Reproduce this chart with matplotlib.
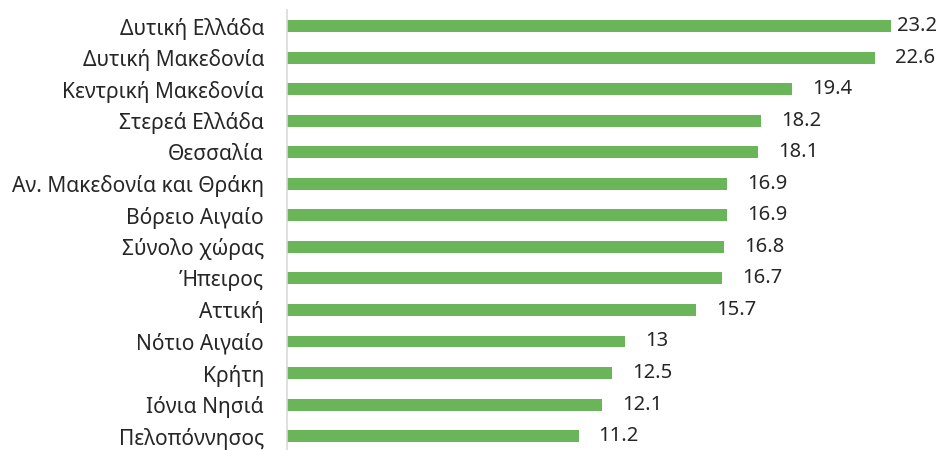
import matplotlib
matplotlib.use("Agg")
import matplotlib.pyplot as plt

categories = ["Δυτική Ελλάδα", "Δυτική Μακεδονία", "Κεντρική Μακεδονία", "Στερεά Ελλάδα",
              "Θεσσαλία", "Αν. Μακεδονία και Θράκη", "Βόρειο Αιγαίο", "Σύνολο χώρας",
              "Ήπειρος", "Αττική", "Νότιο Αιγαίο", "Κρήτη", "Ιόνια Νησιά", "Πελοπόννησος"]
values = [23.2, 22.6, 19.4, 18.2, 18.1, 16.9, 16.9, 16.8, 16.7, 15.7, 13, 12.5, 12.1, 11.2]
labels = ["23.2", "22.6", "19.4", "18.2", "18.1", "16.9", "16.9", "16.8", "16.7", "15.7", "13", "12.5", "12.1", "11.2"]

plt.rcParams['font.family'] = ['Noto Sans', 'DejaVu Sans']

px_per_unit = 26.03
fig = plt.figure(figsize=(9.4, 4.5), dpi=100)
ax = fig.add_axes([287/940, 0, 1 - 287/940, 440/450])
pos = list(range(len(categories)))
ax.barh(pos, values, height=0.38, color="#6AB55A")
gap = 20 / px_per_unit
xmax_label = (897 - 287) / px_per_unit
for p, v, l in zip(pos, values, labels):
    ax.text(min(v + gap, xmax_label), p, l, va="center", ha="left",
            fontsize=14.5, color="#262626")
ax.set_yticks(pos)
ax.set_yticklabels(categories, fontsize=15.1, color="#262626")
ax.set_xlim(0, 653 / px_per_unit)
ax.set_ylim(13.44, -0.51)
ax.set_xticks([])
for s in ["top", "right", "bottom"]:
    ax.spines[s].set_visible(False)
ax.spines["left"].set_color("#D9D9D9")
ax.spines["left"].set_linewidth(1.2)
ax.tick_params(axis="y", length=0, pad=16.5)
fig.savefig("out.png", dpi=100)
